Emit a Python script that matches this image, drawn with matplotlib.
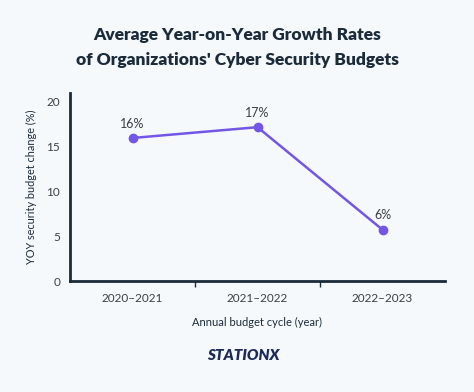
import matplotlib
matplotlib.use("Agg")
import matplotlib.pyplot as plt
import numpy as np

cycles = ["2020–2021", "2021–2022", "2022–2023"]
growth = [15.9, 17.1, 5.7]
growth_labels = ["16%", "17%", "6%"]

BG = "#f5f9fc"
NAVY = "#1c2b3a"
PURPLE = "#7356e8"
TEXT = "#3a3f45"

plt.rcParams["font.family"] = ["Lato", "DejaVu Sans"]

fig = plt.figure(figsize=(4.74, 3.92), dpi=100, facecolor=BG)
ax = fig.add_axes([70 / 474, 1 - 281 / 392, 375 / 474, 188 / 392], facecolor=BG)

fig.text(0.5, 1 - 35 / 392, "Average Year-on-Year Growth Rates", ha="center", va="center",
         fontsize=12.5, fontweight="heavy", color=NAVY)
fig.text(0.5, 1 - 60 / 392, "of Organizations' Cyber Security Budgets", ha="center", va="center",
         fontsize=12.5, fontweight="heavy", color=NAVY)

x = np.arange(len(cycles))
ax.plot(x, growth, color=PURPLE, linewidth=1.8, marker="o", markersize=6, zorder=3)
for xi, v, lab in zip(x, growth, growth_labels):
    ax.annotate(lab, (xi, v), xytext=(0, 6), textcoords="offset points",
                ha="center", va="bottom", fontsize=9, color=TEXT)

ax.set_xlim(-0.5, 2.5)
ax.set_ylim(0, 20.9)
ax.set_yticks([0, 5, 10, 15, 20])
ax.set_xticks(x)
ax.set_xticklabels(cycles)
ax.set_xticks([0.5, 1.5], minor=True)
ax.tick_params(axis="x", which="major", length=0, pad=9, labelsize=8.5, labelcolor=TEXT)
ax.tick_params(axis="x", which="minor", length=4, width=1, color=NAVY)
ax.tick_params(axis="y", length=0, pad=7, labelsize=8.5, labelcolor=TEXT)

for side in ("top", "right"):
    ax.spines[side].set_visible(False)
for side in ("left", "bottom"):
    ax.spines[side].set_linewidth(2)
    ax.spines[side].set_color(NAVY)

ax.set_ylabel("YOY security budget change (%)", fontsize=7.8, color=NAVY, labelpad=7)
ax.set_xlabel("Annual budget cycle (year)", fontsize=8, color=NAVY, labelpad=9)

fig.text(243 / 474, 1 - 356 / 392, "STATIONX", ha="center", va="center",
         fontsize=11, fontweight="heavy", fontstyle="italic", color="#1b2a5a")

fig.savefig("out.png", dpi=100, facecolor=BG)
